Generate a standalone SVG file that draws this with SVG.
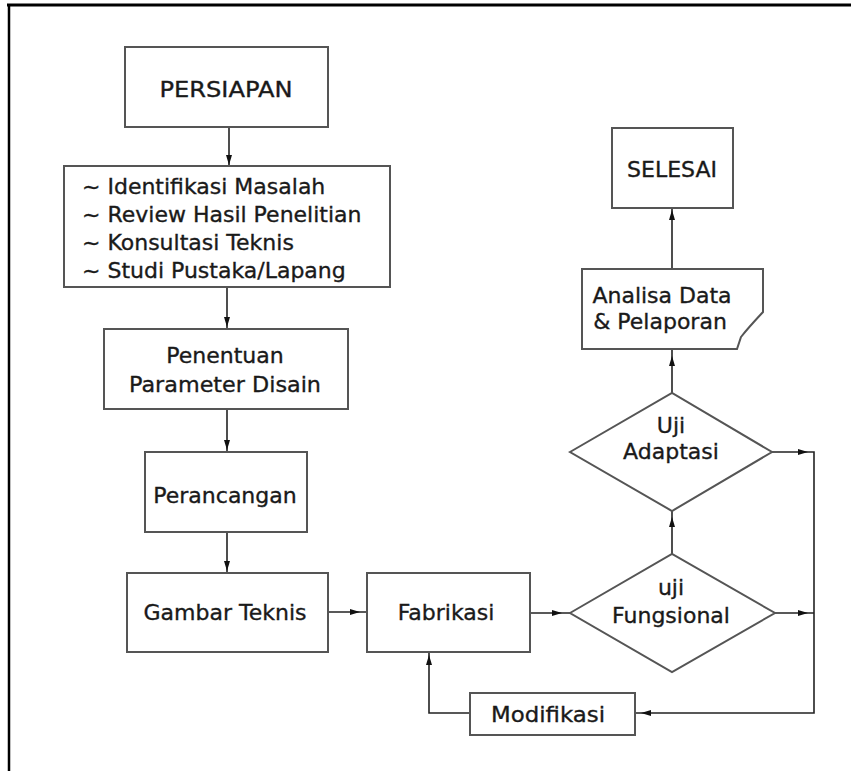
<svg xmlns="http://www.w3.org/2000/svg" xmlns:xlink="http://www.w3.org/1999/xlink" width="851" height="771" viewBox="0 0 851 771">
<style>
.box{fill:#fff;stroke:#555;stroke-width:2}
.t{font-family:"DejaVu Sans",Verdana,sans-serif;font-size:22px;fill:#1a1a1a;stroke:#1a1a1a;stroke-width:0.35}
.c{text-anchor:middle}
.ln{fill:none;stroke:#222;stroke-width:1.6}
.ah{fill:#111}
</style>
<defs>
<path id="ah" class="ah" d="M0,0 L-10,-3 L-10,3 Z"/>
</defs>
<rect width="851" height="771" fill="#fff"/>
<g id="frame">
<line x1="7" y1="5" x2="851" y2="5" stroke="#000" stroke-width="3"/>
<line x1="9" y1="4" x2="9" y2="771" stroke="#000" stroke-width="2.5"/>
</g>
<g id="connectors">
<path class="ln" d="M229,127 V166"/>
<path class="ln" d="M227,287 V329"/>
<path class="ln" d="M227,409 V452"/>
<path class="ln" d="M227,532 V573"/>
<path class="ln" d="M328,612 H367"/>
<path class="ln" d="M530,613 H570"/>
<path class="ln" d="M672,554 V511"/>
<path class="ln" d="M672,393 V349"/>
<path class="ln" d="M672,269 V208"/>
<path class="ln" d="M775,613 H814"/>
<path class="ln" d="M772,452 H814 V713 H635"/>
<path class="ln" d="M470,713 H429 V652"/>
<use xlink:href="#ah" transform="translate(229,165) rotate(90)"/>
<use xlink:href="#ah" transform="translate(227,327) rotate(90)"/>
<use xlink:href="#ah" transform="translate(227,450) rotate(90)"/>
<use xlink:href="#ah" transform="translate(227,571) rotate(90)"/>
<use xlink:href="#ah" transform="translate(360,612)"/>
<use xlink:href="#ah" transform="translate(562,613)"/>
<use xlink:href="#ah" transform="translate(672,517) rotate(-90)"/>
<use xlink:href="#ah" transform="translate(672,356) rotate(-90)"/>
<use xlink:href="#ah" transform="translate(672,210) rotate(-90)"/>
<use xlink:href="#ah" transform="translate(808,613)"/>
<use xlink:href="#ah" transform="translate(808,452)"/>
<use xlink:href="#ah" transform="translate(641,713) rotate(180)"/>
<use xlink:href="#ah" transform="translate(429,655) rotate(-90)"/>
</g>
<g id="persiapan">
<rect class="box" x="125" y="47" width="203" height="80"/>
<text class="t c" x="226" y="97" textLength="133" lengthAdjust="spacingAndGlyphs">PERSIAPAN</text>
</g>
<g id="kegiatan">
<rect class="box" x="64" y="166" width="326" height="121"/>
<text class="t" x="82" y="194">~ Identifikasi Masalah</text>
<text class="t" x="82" y="222">~ Review Hasil Penelitian</text>
<text class="t" x="82" y="250">~ Konsultasi Teknis</text>
<text class="t" x="82" y="278">~ Studi Pustaka/Lapang</text>
</g>
<g id="penentuan">
<rect class="box" x="104" y="329" width="244" height="80"/>
<text class="t c" x="225" y="363">Penentuan</text>
<text class="t c" x="225" y="392" textLength="192" lengthAdjust="spacingAndGlyphs">Parameter Disain</text>
</g>
<g id="perancangan">
<rect class="box" x="145" y="452" width="162" height="80"/>
<text class="t c" x="225" y="503">Perancangan</text>
</g>
<g id="gambar">
<rect class="box" x="127" y="573" width="201" height="79"/>
<text class="t c" x="225" y="620">Gambar Teknis</text>
</g>
<g id="fabrikasi">
<rect class="box" x="367" y="573" width="163" height="79"/>
<text class="t c" x="446" y="620">Fabrikasi</text>
</g>
<g id="uji-fungsional">
<polygon class="box" points="570,613 672,554 775,613 672,672"/>
<text class="t c" x="671" y="595">uji</text>
<text class="t c" x="671" y="623">Fungsional</text>
</g>
<g id="uji-adaptasi">
<polygon class="box" points="570,452 672,393 772,452 672,511"/>
<text class="t c" x="671" y="433">Uji</text>
<text class="t c" x="671" y="459">Adaptasi</text>
</g>
<g id="analisa">
<path class="box" d="M582,269 H763 V312 Q748,328 741,337 L737,349 H582 Z"/>
<text class="t c" x="662" y="303">Analisa Data</text>
<text class="t c" x="660" y="329">&amp; Pelaporan</text>
</g>
<g id="selesai">
<rect class="box" x="612" y="128" width="121" height="80"/>
<text class="t c" x="672" y="177">SELESAI</text>
</g>
<g id="modifikasi">
<rect class="box" x="470" y="693" width="165" height="42"/>
<text class="t c" x="548" y="722" textLength="114" lengthAdjust="spacingAndGlyphs">Modifikasi</text>
</g>
</svg>
